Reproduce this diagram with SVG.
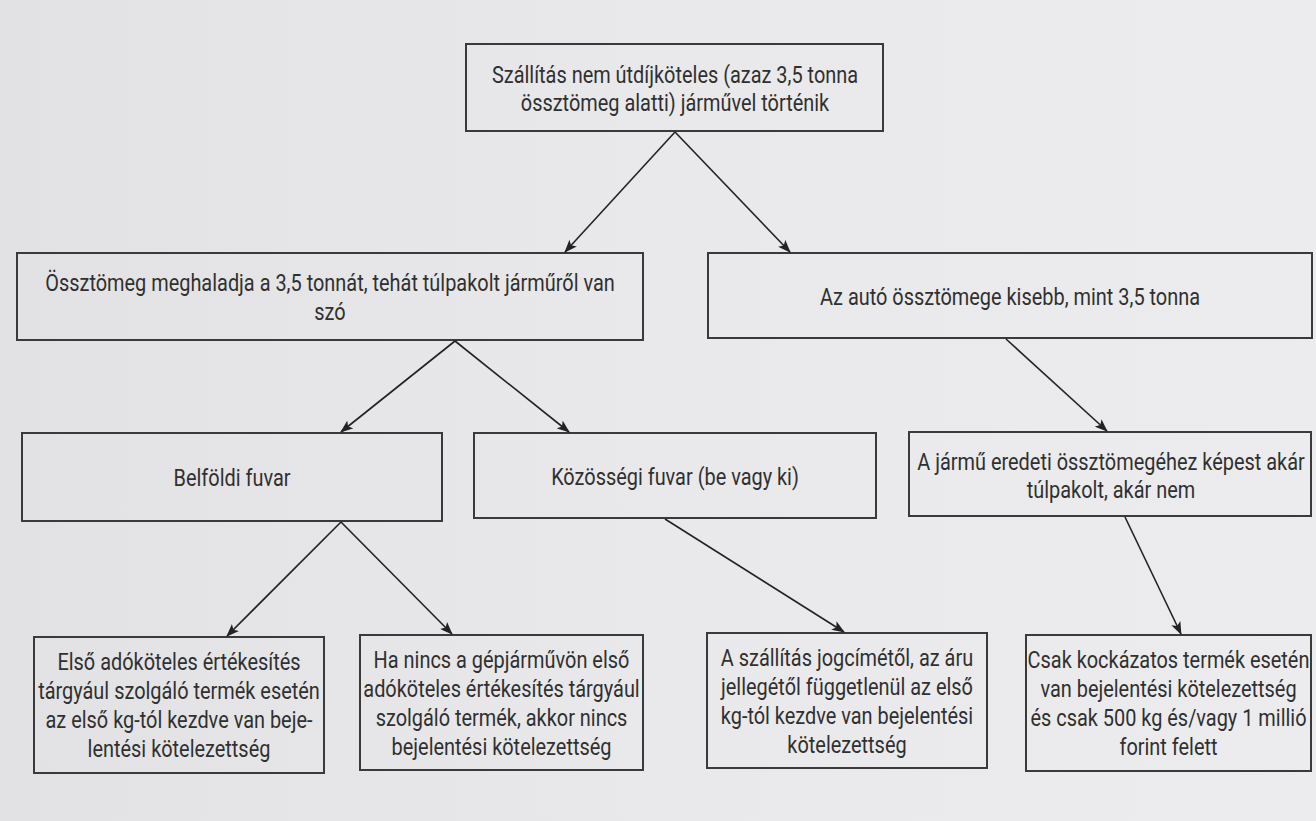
<svg xmlns="http://www.w3.org/2000/svg" width="1316" height="821" viewBox="0 0 1316 821">
<defs>
<linearGradient id="bg" x1="0" y1="0" x2="1" y2="0">
<stop offset="0" stop-color="#e2e2e4"/>
<stop offset="0.5" stop-color="#e9e9eb"/>
<stop offset="1" stop-color="#ececee"/>
</linearGradient>
<marker id="arr" viewBox="0 0 13 10" refX="12" refY="5" markerWidth="13" markerHeight="10" markerUnits="userSpaceOnUse" orient="auto">
<path d="M0,0 L13,5 L0,10 L3,5 Z" fill="#222"/>
</marker>
<style>
.box{fill:none;stroke:#3a3a3a;stroke-width:2}
.t text{font-family:Roboto,"Liberation Sans",sans-serif;font-size:24px;fill:#303030;text-anchor:middle}
.c line{stroke:#222;stroke-width:1.6;marker-end:url(#arr)}
</style>
</defs>
<rect width="1316" height="821" fill="url(#bg)"/>

<g id="n-top">
<rect class="box" x="466" y="44" width="417" height="87"/>
<g class="t" transform="translate(675 0) scale(0.83 1)">
<text y="83">Szállítás nem útdíjköteles (azaz 3,5 tonna</text>
<text y="111">össztömeg alatti) járművel történik</text>
</g>
</g>

<g id="n-over">
<rect class="box" x="17" y="253" width="626" height="87"/>
<g class="t" transform="translate(330 0) scale(0.83 1)">
<text y="291">Össztömeg meghaladja a 3,5 tonnát, tehát túlpakolt járműről van</text>
<text y="320">szó</text>
</g>
</g>

<g id="n-under">
<rect class="box" x="708" y="253" width="604" height="85"/>
<g class="t" transform="translate(1010 0) scale(0.83 1)">
<text y="305">Az autó össztömege kisebb, mint 3,5 tonna</text>
</g>
</g>

<g id="n-belfoldi">
<rect class="box" x="22" y="433" width="420" height="88"/>
<g class="t" transform="translate(232 0) scale(0.83 1)">
<text y="486">Belföldi fuvar</text>
</g>
</g>

<g id="n-kozossegi">
<rect class="box" x="474" y="433" width="402" height="85"/>
<g class="t" transform="translate(675 0) scale(0.83 1)">
<text y="485">Közösségi fuvar (be vagy ki)</text>
</g>
</g>

<g id="n-jarmu">
<rect class="box" x="909" y="432" width="402" height="84"/>
<g class="t" transform="translate(1111 0) scale(0.83 1)">
<text y="470">A jármű eredeti össztömegéhez képest akár</text>
<text y="498">túlpakolt, akár nem</text>
</g>
</g>

<g id="n-b1">
<rect class="box" x="34" y="637" width="290" height="136"/>
<g class="t" transform="translate(179 0) scale(0.83 1)">
<text y="670">Első adóköteles értékesítés</text>
<text y="699">tárgyául szolgáló termék esetén</text>
<text y="728">az első kg-tól kezdve van beje-</text>
<text y="757">lentési kötelezettség</text>
</g>
</g>

<g id="n-b2">
<rect class="box" x="360" y="635" width="283" height="135"/>
<g class="t" transform="translate(501.5 0) scale(0.83 1)">
<text y="668">Ha nincs a gépjárművön első</text>
<text y="697">adóköteles értékesítés tárgyául</text>
<text y="726">szolgáló termék, akkor nincs</text>
<text y="755">bejelentési kötelezettség</text>
</g>
</g>

<g id="n-b3">
<rect class="box" x="707" y="633" width="280" height="135"/>
<g class="t" transform="translate(847 0) scale(0.83 1)">
<text y="666">A szállítás jogcímétől, az áru</text>
<text y="695">jellegétől függetlenül az első</text>
<text y="724">kg-tól kezdve van bejelentési</text>
<text y="753">kötelezettség</text>
</g>
</g>

<g id="n-b4">
<rect class="box" x="1026" y="635" width="285" height="136"/>
<g class="t" transform="translate(1168.5 0) scale(0.83 1)">
<text y="668">Csak kockázatos termék esetén</text>
<text y="697">van bejelentési kötelezettség</text>
<text y="726">és csak 500 kg és/vagy 1 millió</text>
<text y="755">forint felett</text>
</g>
</g>

<g id="connectors" class="c">
<line x1="675" y1="132" x2="565" y2="252"/>
<line x1="675" y1="132" x2="790" y2="252"/>
<line x1="455" y1="341" x2="341" y2="432"/>
<line x1="455" y1="341" x2="569" y2="432"/>
<line x1="1006" y1="339" x2="1107" y2="431"/>
<line x1="341" y1="522" x2="227" y2="636"/>
<line x1="341" y1="522" x2="452" y2="634"/>
<line x1="665" y1="519" x2="844" y2="632"/>
<line x1="1125" y1="517" x2="1181" y2="634"/>
</g>
</svg>
